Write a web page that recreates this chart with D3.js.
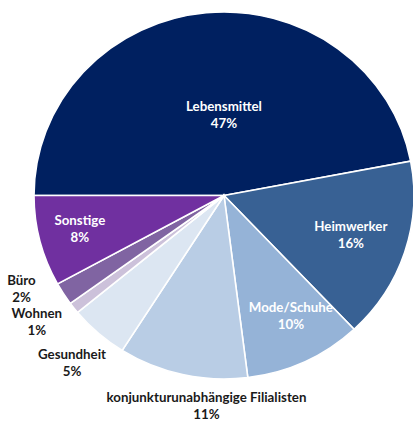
<!DOCTYPE html>
<html><head><meta charset="utf-8">
<script src="https://cdn.jsdelivr.net/npm/d3@7"></script>
<style>
html,body{margin:0;padding:0;background:#fff;}
svg{display:block;font-family:Lato, "Open Sans", sans-serif;}
</style></head>
<body><svg id="chart" width="413" height="423"></svg>
<script>
const categories = ["Lebensmittel","Heimwerker","Mode/Schuhe","konjunkturunabhängige Filialisten","Gesundheit","Wohnen","Büro","Sonstige"];
const values = [47,16,10,11,5,1,2,8];
const percentLabels = ["47%","16%","10%","11%","5%","1%","2%","8%"];
const colors = ["#002060","#386194","#95B3D7","#B9CDE5","#DCE6F2","#CCC1DA","#8064A2","#7030A0"];

// layout config (label placement: inside/outside, radius fraction, angle nudge in degrees)
const labelLayout = [
  {inside:true, rf:0.44, nudge:5.4},
  {inside:true, rf:0.70, nudge:-0.5},
  {inside:true, rf:0.745, nudge:-3},
  {inside:false, rf:1.15, nudge:-8},
  {inside:false, rf:1.21, nudge:0},
  {inside:false, rf:1.20, nudge:3},
  {inside:false, rf:1.18, nudge:7},
  {inside:true, rf:0.78, nudge:1}
];

const svg = d3.select("#chart");
const cx = 224, cy = 195.5, ry = 183.5, sx = 190/183.5;

const pie = d3.pie().sort(null).value(d => d)
  .startAngle(-Math.PI/2).endAngle(3*Math.PI/2);
const arcs = pie(values);
const arc = d3.arc().innerRadius(0).outerRadius(ry);

const g = svg.append("g").attr("transform", `translate(${cx},${cy}) scale(${sx},1)`);
g.selectAll("path").data(arcs).join("path")
  .attr("d", arc)
  .attr("fill", (d,i) => colors[i])
  .attr("stroke", "#fff")
  .attr("stroke-width", 1.6)
  .attr("vector-effect","non-scaling-stroke");

const lg = svg.append("g").attr("transform", `translate(${cx},${cy})`);
arcs.forEach((a,i) => {
  const L = labelLayout[i];
  const ang = (a.startAngle + a.endAngle)/2 + L.nudge*Math.PI/180;
  const x = Math.sin(ang) * ry * L.rf * sx;
  const y = -Math.cos(ang) * ry * L.rf;
  const t = lg.append("text")
    .attr("text-anchor","middle")
    .attr("font-size", 13.3)
    .attr("font-weight", 700)
    .attr("fill", L.inside ? "#fff" : "#1a1a1a");
  t.append("tspan").attr("x", x).attr("y", y - 3.5).text(categories[i]);
  t.append("tspan").attr("x", x).attr("y", y + 13.5).text(percentLabels[i]);
});
</script></body></html>
